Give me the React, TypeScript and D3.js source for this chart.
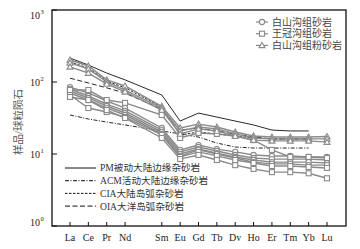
import * as React from 'react';
import * as d3 from 'd3';

// element slots (Pm kept as an empty slot so spacing matches the figure)
const slots = ['La', 'Ce', 'Pr', 'Nd', 'Pm', 'Sm', 'Eu', 'Gd', 'Tb', 'Dy', 'Ho', 'Er', 'Tm', 'Yb', 'Lu'];
const elements = ['La', 'Ce', 'Pr', 'Nd', 'Sm', 'Eu', 'Gd', 'Tb', 'Dy', 'Ho', 'Er', 'Tm', 'Yb', 'Lu'];
const refElements = ['La', 'Ce', 'Pr', 'Nd', 'Sm', 'Eu', 'Gd', 'Tb', 'Dy', 'Ho', 'Er', 'Tm', 'Yb'];
const yTicks = [1, 10, 100, 1000];

// 白山沟组砂岩 (circles)
const baishanSand = [
    [85, 70.4, 54.5, 43.5, 23, 11.4, 13.3, 11.7, 10.7, 9.7, 9.4, 9.4, 9.1, 9.1],
    [80, 63.9, 49.3, 39.6, 21.5, 10.7, 12.5, 11, 9.7, 8.8, 8.5, 8.5, 8.5, 8.25],
    [75, 60, 46.4, 37.1, 20.2, 10, 11.7, 10.3, 9.1, 8.25, 7.7, 7.7, 7.7, 7.5],
    [70.4, 56.2, 43.5, 34.8, 19, 9.4, 11.4, 10, 8.8, 7.7, 7.3, 7.3, 7.0, 7.0],
];
// 王冠沟组砂岩 (squares)
const wangguanSand = [
    [77.4, 77.4, 56.2, 51.3, 34.8, 16.7, 19.6, 19, 17.8, 15.6, 11.4, 9.1, 9.1, 8.8],
    [66, 43.5, 38.3, 32.6, 18.4, 9.1, 10.7, 9.4, 8.25, 7.5, 6.8, 6.8, 6.6, 6.4],
    [62, 56.2, 40.8, 31.6, 16.7, 8.5, 9.7, 8.25, 7.0, 6.2, 5.6, 5.6, 5.4, 4.6],
];
// 白山沟组粉砂岩 (triangles)
const baishanSilt = [
    [202, 167, 107, 88, 46, 23, 26, 23.7, 20.2, 17.8, 17.2, 17.2, 17.2, 17.5],
    [184, 152, 100, 77, 43.5, 20.9, 23.7, 22.3, 19, 16.7, 16.2, 16.2, 16.2, 16.2],
    [162, 133, 94, 73, 40.8, 19, 22.3, 20.9, 17.8, 15.6, 15.2, 15.2, 15.2, 14.6],
];

// tectonic setting reference curves
const pm = [215, 172, 133, 107, 66, 28.7, 37, 32.6, 28.7, 25.3, 21.5, 20.9, 20.9];
const acm = [34.8, 30.6, 27.8, 25.3, 20.9, 19, 17.2, 14.2, 12.5, 12.1, 12.1, 12.1, 12.1];
const cia = [190, 156, 103, 83, 45, 18.4, 20.2, 19, 17.8, 16.7, 16.2, 16.2, 16.2];
const oia = [113, 97, 83, 70, 42, 21.5, 23, 20.9, 19, 17.2, 16.2, 16.2, 16.2];

const refLines = [
    { name: 'PM被动大陆边缘杂砂岩', values: pm, dash: '' },
    { name: 'ACM活动大陆边缘杂砂岩', values: acm, dash: '4,1.5,1,1.5' },
    { name: 'CIA大陆岛弧杂砂岩', values: cia, dash: '2.5,1.5' },
    { name: 'OIA大洋岛弧杂砂岩', values: oia, dash: '5,2.5' },
];

const sampleGroups = [
    { name: '白山沟组砂岩', lines: baishanSand, marker: 'circle' },
    { name: '王冠沟组砂岩', lines: wangguanSand, marker: 'square' },
    { name: '白山沟组粉砂岩', lines: baishanSilt, marker: 'triangle' },
];

const GRAY = '#8a8a8a';
const FONT = '"Liberation Serif", "Noto Sans CJK SC", serif';

function Marker(props: { type: string, x: number, y: number }) {
    const { type, x, y } = props;
    if (type === 'circle') {
        return <circle cx={x} cy={y} r={2.6} fill="#fff" stroke={GRAY} strokeWidth={1.1} />;
    }
    if (type === 'square') {
        return <rect x={x - 2.5} y={y - 2.5} width={5} height={5} fill="#fff" stroke={GRAY} strokeWidth={1.1} />;
    }
    const s = 3;
    return <path d={`M${x},${y - s}L${x + s},${y + s * 0.75}L${x - s},${y + s * 0.75}Z`} fill="#fff" stroke={GRAY} strokeWidth={1.1} />;
}

export default function App() {
    const width = 360;
    const height = 249;
    const left = 52, right = 346, top = 10, bottom = 226;

    const x = d3.scalePoint<string>().domain(slots).range([70, 327]);
    const y = d3.scaleLog().domain([1, 1000]).range([bottom, top]);

    const line = d3.line<[string, number]>()
        .x((d) => x(d[0]) as number)
        .y((d) => y(d[1]));

    return (
        <div style={{ width: width, height: height, margin: -8 }}>
            <svg width={width} height={height} style={{ display: 'block', fontFamily: FONT }}>
                <rect x={0} y={0} width={width} height={height} fill="#fff" />

                {/* reference curves */}
                {refLines.map((r) => (
                    <path key={r.name}
                        d={line(refElements.map((e, i) => [e, r.values[i]] as [string, number])) || ''}
                        fill="none" stroke="#111" strokeWidth={0.9} strokeDasharray={r.dash} />
                ))}

                {/* sample curves */}
                {sampleGroups.map((g) => g.lines.map((vals, li) => (
                    <g key={g.name + li}>
                        <path d={line(elements.map((e, i) => [e, vals[i]] as [string, number])) || ''}
                            fill="none" stroke={GRAY} strokeWidth={1.4} />
                        {elements.map((e, i) => (
                            <Marker key={e} type={g.marker} x={x(e) as number} y={y(vals[i])} />
                        ))}
                    </g>
                )))}

                {/* frame */}
                <rect x={left} y={top} width={right - left} height={bottom - top}
                    fill="none" stroke="#111" strokeWidth={1.3} />

                {/* x ticks */}
                {elements.map((e) => (
                    <g key={e}>
                        <line x1={x(e)} x2={x(e)} y1={bottom} y2={bottom - 4} stroke="#111" strokeWidth={1} />
                        <text x={x(e)} y={241} textAnchor="middle" fontSize={10} fill="#222">{e}</text>
                    </g>
                ))}

                {/* y ticks */}
                {yTicks.map((t, i) => {
                    const ty = y(t);
                    const ly = Math.min(Math.max(ty, top + 5), bottom - 4);
                    return (
                        <g key={t}>
                            <line x1={left} x2={left + 5} y1={ty} y2={ty} stroke="#111" strokeWidth={1} />
                            <text x={40} y={ly + 3.5} textAnchor="end" fontSize={10} fill="#222">10</text>
                            <text x={40.5} y={ly - 1} fontSize={6.5} fill="#222">{i}</text>
                        </g>
                    );
                })}

                {/* y label */}
                <text transform="translate(20,122) rotate(-90)" textAnchor="middle" fontSize={10.5}
                    fill="#555" dominantBaseline="middle">样品/球粒陨石</text>

                {/* sample legend */}
                {sampleGroups.map((g, i) => {
                    const ly = 22 + i * 11.7;
                    return (
                        <g key={g.name}>
                            <line x1={256} x2={268} y1={ly} y2={ly} stroke={GRAY} strokeWidth={1.2} />
                            <Marker type={g.marker} x={262} y={ly} />
                            <text x={272} y={ly + 3.5} fontSize={10} fill="#444">{g.name}</text>
                        </g>
                    );
                })}

                {/* reference legend */}
                {refLines.map((r, i) => {
                    const ly = 168 + i * 12.7;
                    return (
                        <g key={r.name}>
                            <line x1={65} x2={96} y1={ly} y2={ly} stroke="#111" strokeWidth={1}
                                strokeDasharray={r.dash} />
                            <text x={100} y={ly + 3.4} fontSize={9.6} fill="#333">{r.name}</text>
                        </g>
                    );
                })}
            </svg>
        </div>
    );
}
